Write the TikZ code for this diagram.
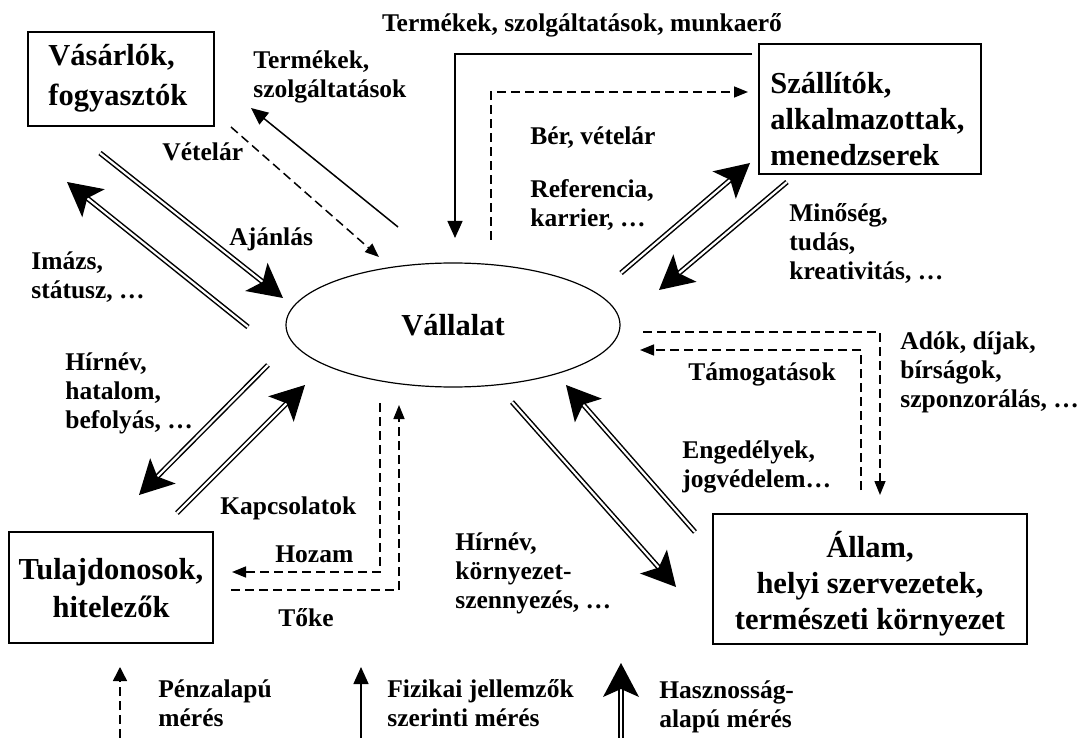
\documentclass[tikz,border=0pt]{standalone}
\usepackage{fontspec}
\setmainfont{Liberation Serif}
\usetikzlibrary{arrows.meta,calc,shapes.geometric}
\newcommand\dblarr[2]{%
  \draw[dbl, shorten >=12pt] (#1) -- (#2);
  \coordinate (ab) at ($(#2)!17pt!(#1)$);
  \coordinate (an) at ($(#2)!13pt!(#1)$);
  \fill ($(ab)!9pt!90:(#2)$) -- (#2) -- ($(ab)!9pt!-90:(#2)$) -- (an) -- cycle;}
\begin{document}
\begin{tikzpicture}[x=0.5pt,y=-0.5pt,
  lbl/.style={inner sep=0pt, align=left, anchor=west, font=\fontsize{12.75}{14.5}\selectfont\bfseries},
  boxnode/.style={draw, line width=0.75pt, inner sep=0pt},
  boxtext/.style={inner sep=0pt, font=\bfseries\fontsize{15.25}{#1}\selectfont},
  thin/.style={line width=0.75pt},
  dsh/.style={line width=0.75pt, dash pattern=on 4.5pt off 2.5pt},
  tri/.style={-{Triangle[length=8.5pt,width=7.5pt]}},
  dtri/.style={-{Triangle[length=7pt,width=5.5pt]}},
  ltri/.style={-{Triangle[length=7pt,width=7pt]}},
  dbl/.style={double, line width=0.75pt, double distance=1.1pt}
]
\useasboundingbox (0,0) rectangle (1078,738);

% boxes
\node[boxnode, minimum width=93pt, minimum height=47pt] (vas) at (121,79) {};
\node[boxtext=20pt, align=left, anchor=west] (vast) at (48,78.5) {Vásárlók,\\fogyasztók};
\node[boxnode, minimum width=111pt, minimum height=65pt] (szall) at (870,109) {};
\node[boxtext=18pt, align=left, anchor=west] (szallt) at (770,119) {Szállítók,\\alkalmazottak,\\menedzserek};
\node[boxnode, minimum width=102pt, minimum height=55.5pt] (tul) at (111,587.5) {};
\node[boxtext=19pt, align=center] (tult) at (111,588) {Tulajdonosok,\\hitelezők};
\node[boxnode, minimum width=157pt, minimum height=65pt] (allam) at (870,579) {};
\node[boxtext=18pt, align=center] (allamt) at (870,584) {Állam,\\helyi szervezetek,\\természeti környezet};
\node[ellipse, draw, line width=0.6pt, minimum width=167pt, minimum height=62pt, inner sep=0pt, font=\fontsize{15.25}{18.5}\selectfont\bfseries] (vall) at (453,325) {Vállalat};

% coordinates
\coordinate (a1s) at (398,227); \coordinate (a1e) at (251,108);
\coordinate (a2s) at (231,127); \coordinate (a2e) at (379,257);
\coordinate (a3s) at (100,153); \coordinate (a3e) at (283,298);
\coordinate (a4s) at (248,327); \coordinate (a4e) at (67,182);
\coordinate (t1) at (752,54); \coordinate (t2) at (455,54); \coordinate (t3) at (455,238);
\coordinate (b1) at (491,240); \coordinate (b2) at (491,92); \coordinate (b3) at (748,92);
\coordinate (s1s) at (621,273); \coordinate (s1e) at (750,163);
\coordinate (s2s) at (787,182); \coordinate (s2e) at (659,290);
\coordinate (d1) at (643,332); \coordinate (d2) at (880,332); \coordinate (d3) at (880,495);
\coordinate (m1) at (861,490); \coordinate (m2) at (861,350); \coordinate (m3) at (640,350);
\coordinate (e1s) at (512,402); \coordinate (e1e) at (676,587);
\coordinate (e2s) at (695,532); \coordinate (e2e) at (566,385);
\coordinate (h1) at (380,403); \coordinate (h2) at (380,572); \coordinate (h3) at (232,572);
\coordinate (k1) at (231,590); \coordinate (k2) at (399,590); \coordinate (k3) at (399,405);
\coordinate (o1s) at (268,365); \coordinate (o1e) at (139,495);
\coordinate (o2s) at (177,513); \coordinate (o2e) at (305,385);
\coordinate (l1s) at (120,738); \coordinate (l1e) at (120,667);
\coordinate (l2s) at (361,738); \coordinate (l2e) at (361,667);
\coordinate (l3s) at (621,738); \coordinate (l3e) at (621,663);

% connectors
\draw[thin, tri] (a1s) -- (a1e);
\draw[dsh, dtri] (a2s) -- (a2e);
\dblarr{a3s}{a3e}
\dblarr{a4s}{a4e}
\draw[thin, tri] (t1) -- (t2) -- (t3);
\draw[dsh, dtri] (b1) -- (b2) -- (b3);
\dblarr{s1s}{s1e}
\dblarr{s2s}{s2e}
\draw[dsh, dtri] (d1) -- (d2) -- (d3);
\draw[dsh, dtri] (m1) -- (m2) -- (m3);
\dblarr{e1s}{e1e}
\dblarr{e2s}{e2e}
\draw[dsh, dtri] (h1) -- (h2) -- (h3);
\draw[dsh, dtri] (k1) -- (k2) -- (k3);
\dblarr{o1s}{o1e}
\dblarr{o2s}{o2e}
\draw[dsh, ltri] (l1s) -- (l1e);
\draw[thin, tri] (l2s) -- (l2e);
\dblarr{l3s}{l3e}

% labels
\node[lbl, anchor=center] (ltop) at (582,25) {Termékek, szolgáltatások, munkaerő};
\node[lbl] (lterm) at (253,77) {Termékek,\\szolgáltatások};
\node[lbl] (lvet) at (162,152) {Vételár};
\node[lbl] (laj) at (229,239) {Ajánlás};
\node[lbl] (lim) at (31,277) {Imázs,\\státusz, …};
\node[lbl] (lhir) at (65,393) {Hírnév,\\hatalom,\\befolyás, …};
\node[lbl] (lkap) at (220,508) {Kapcsolatok};
\node[lbl] (lhoz) at (275,554) {Hozam};
\node[lbl] (ltoke) at (278,618) {Tőke};
\node[lbl] (lhir2) at (455,573) {Hírnév,\\környezet-\\szennyezés, …};
\node[lbl] (leng) at (682,467) {Engedélyek,\\jogvédelem…};
\node[lbl] (ltam) at (688,374) {Támogatások};
\node[lbl] (lado) at (900,372) {Adók, díjak,\\bírságok,\\szponzorálás, …};
\node[lbl] (lmin) at (789,243) {Minőség,\\tudás,\\kreativitás, …};
\node[lbl] (lber) at (530,138) {Bér, vételár};
\node[lbl] (lref) at (530,205) {Referencia,\\karrier, …};
\node[lbl] (lpen) at (158,703) {Pénzalapú\\mérés};
\node[lbl] (lfiz) at (387,703) {Fizikai jellemzők\\szerinti mérés};
\node[lbl] (lhasz) at (659,707) {Hasznosság-\\alapú mérés};
\end{tikzpicture}
\end{document}
